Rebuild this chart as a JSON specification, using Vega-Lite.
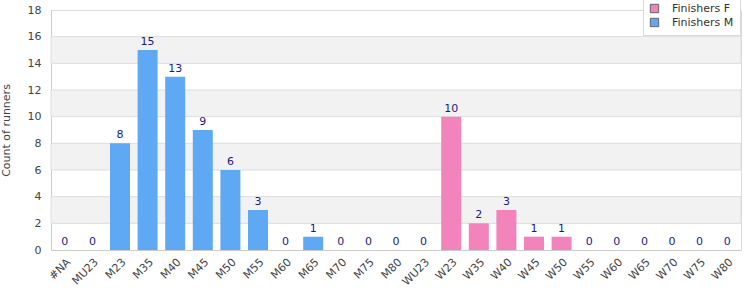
{
  "$schema": "https://vega.github.io/schema/vega-lite/v6.json",
  "width": 690,
  "height": 240,
  "autosize": {"type": "none"},
  "padding": {"left": 51, "top": 10, "right": 9, "bottom": 50},
  "config": {
    "font": "DejaVu Sans",
    "view": {"stroke": "#d9d9d9"},
    "axis": {"labelFont": "DejaVu Sans", "titleFont": "DejaVu Sans", "labelColor": "#444", "titleColor": "#444", "labelFontSize": 11, "titleFontSize": 11, "titleFontWeight": "normal"}
  },
  "datasets": {
    "runners": [
      {"category": "#NA", "series": "Finishers M", "count": 0},
      {"category": "MU23", "series": "Finishers M", "count": 0},
      {"category": "M23", "series": "Finishers M", "count": 8},
      {"category": "M35", "series": "Finishers M", "count": 15},
      {"category": "M40", "series": "Finishers M", "count": 13},
      {"category": "M45", "series": "Finishers M", "count": 9},
      {"category": "M50", "series": "Finishers M", "count": 6},
      {"category": "M55", "series": "Finishers M", "count": 3},
      {"category": "M60", "series": "Finishers M", "count": 0},
      {"category": "M65", "series": "Finishers M", "count": 1},
      {"category": "M70", "series": "Finishers M", "count": 0},
      {"category": "M75", "series": "Finishers M", "count": 0},
      {"category": "M80", "series": "Finishers M", "count": 0},
      {"category": "WU23", "series": "Finishers F", "count": 0},
      {"category": "W23", "series": "Finishers F", "count": 10},
      {"category": "W35", "series": "Finishers F", "count": 2},
      {"category": "W40", "series": "Finishers F", "count": 3},
      {"category": "W45", "series": "Finishers F", "count": 1},
      {"category": "W50", "series": "Finishers F", "count": 1},
      {"category": "W55", "series": "Finishers F", "count": 0},
      {"category": "W60", "series": "Finishers F", "count": 0},
      {"category": "W65", "series": "Finishers F", "count": 0},
      {"category": "W70", "series": "Finishers F", "count": 0},
      {"category": "W75", "series": "Finishers F", "count": 0},
      {"category": "W80", "series": "Finishers F", "count": 0}
    ],
    "bands": [
      {"lo": 2, "hi": 4},
      {"lo": 6, "hi": 8},
      {"lo": 10, "hi": 12},
      {"lo": 14, "hi": 16}
    ]
  },
  "layer": [
    {
      "data": {"name": "bands"},
      "mark": {"type": "rect", "color": "#f2f2f2", "stroke": "#dddddd", "strokeWidth": 1},
      "encoding": {
        "y": {"field": "lo", "type": "quantitative", "scale": {"domain": [0, 18], "nice": false}},
        "y2": {"field": "hi"}
      }
    },
    {
      "data": {"name": "runners"},
      "mark": {"type": "bar", "width": 20},
      "encoding": {
        "x": {"field": "category", "type": "nominal", "sort": null,
              "axis": {"title": null, "labelAngle": -45, "ticks": false, "domainColor": "#ccc", "labelPadding": 6}},
        "y": {"field": "count", "type": "quantitative",
              "axis": {"title": "Count of runners", "values": [0,2,4,6,8,10,12,14,16,18], "tickCount": 20, "labelOverlap": false, "labelFlush": false, "ticks": false, "grid": false, "domainColor": "#ccc", "labelPadding": 10, "titlePadding": 16}},
        "color": {"field": "series", "type": "nominal",
                  "scale": {"domain": ["Finishers F", "Finishers M"], "range": ["#f283bb", "#5fa9f4"]},
                  "legend": {"title": null, "orient": "none", "legendX": 592, "legendY": -13, "symbolType": "square", "symbolSize": 70, "symbolStrokeColor": "#666", "symbolStrokeWidth": 1, "labelFontSize": 11, "labelColor": "#333", "fillColor": "white", "strokeColor": "#d9d9d9", "padding": 6, "rowPadding": 1, "labelOffset": 12}}
      }
    },
    {
      "data": {"name": "runners"},
      "mark": {"type": "text", "dy": -8, "color": "#1a1a8c", "fontSize": 11},
      "encoding": {
        "x": {"field": "category", "type": "nominal", "sort": null},
        "y": {"field": "count", "type": "quantitative"},
        "text": {"field": "count", "type": "quantitative"}
      }
    }
  ]
}
